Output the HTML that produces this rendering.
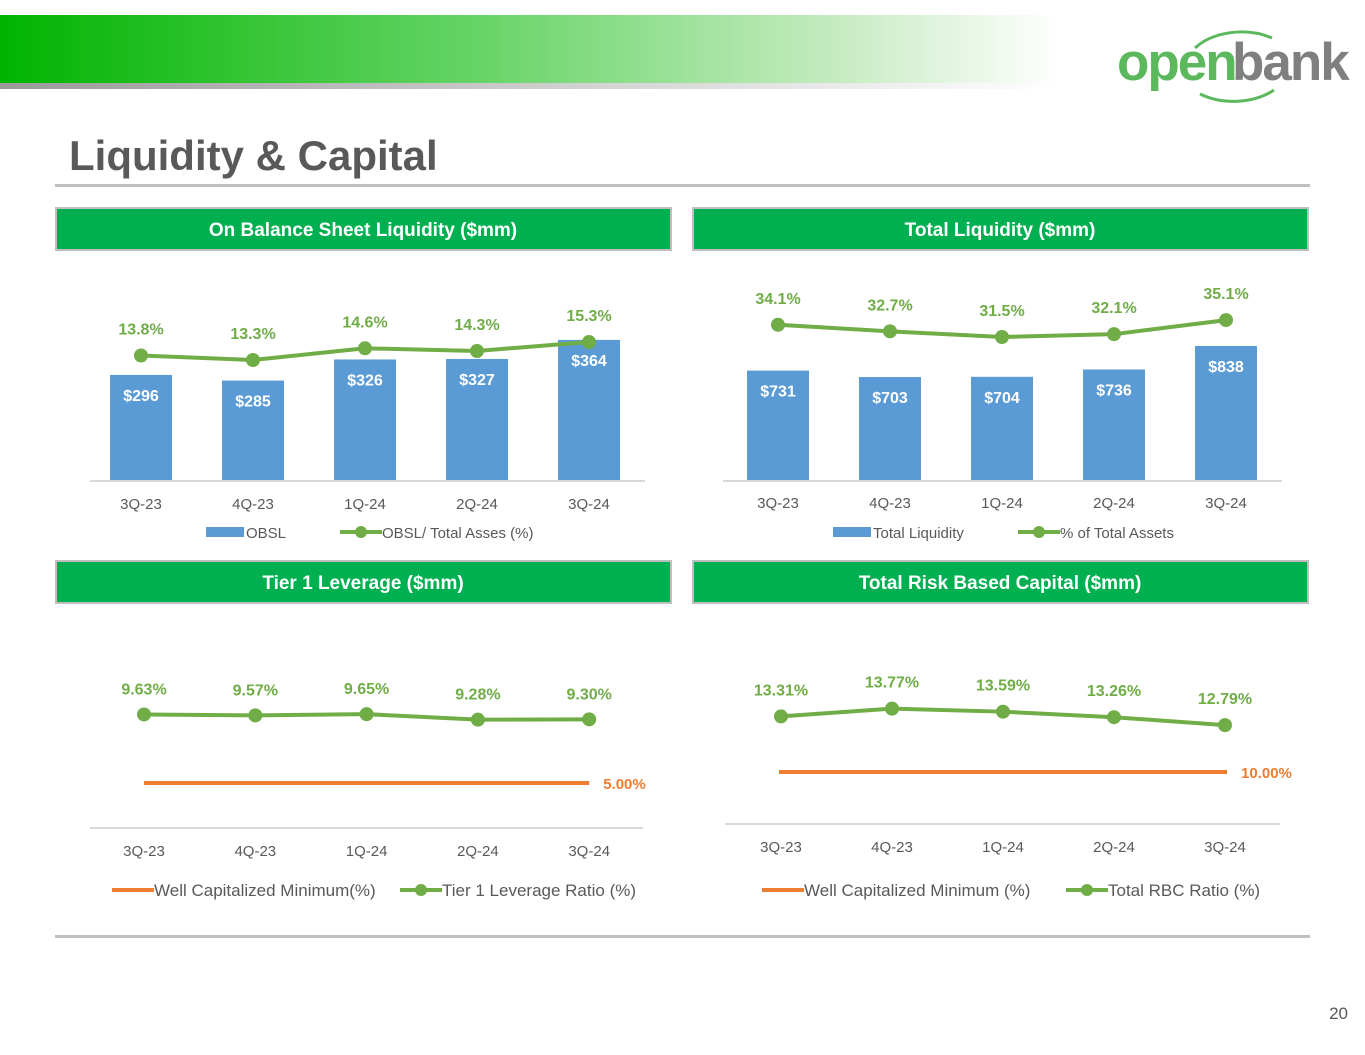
<!DOCTYPE html>
<html><head><meta charset="utf-8">
<style>
html,body{margin:0;padding:0;background:#fff;}
body{width:1365px;height:1055px;overflow:hidden;position:relative;font-family:"Liberation Sans",sans-serif;}
svg{position:absolute;left:0;top:0;}
</style></head>
<body>
<svg id="s" width="1365" height="1055" viewBox="0 0 1365 1055">
<defs>
<linearGradient id="gbar" x1="0" x2="1" y1="0" y2="0">
<stop offset="0" stop-color="#00b400"/><stop offset="0.45" stop-color="#66d466"/><stop offset="0.8" stop-color="#c9ecc4"/><stop offset="1" stop-color="#ffffff"/>
</linearGradient>
<linearGradient id="gline" x1="0" x2="1"><stop offset="0" stop-color="#9a9a9a"/><stop offset="1" stop-color="#ffffff"/></linearGradient>
</defs>
<rect x="0" y="15" width="1060" height="68" fill="url(#gbar)"/>
<rect x="0" y="83" width="1060" height="6" fill="url(#gline)"/>
<g>
<path d="M1195 48 A58 40 0 0 1 1272 38" fill="none" stroke="#5cb85c" stroke-width="3"/>
<path d="M1200 94 A58 40 0 0 0 1274 90" fill="none" stroke="#5cb85c" stroke-width="3"/>
<text x="1117" y="80" font-size="53" font-weight="bold" fill="#5cb85c" letter-spacing="-2">open</text>
<text x="1232" y="80" font-size="53" font-weight="bold" fill="#7f7f7f" letter-spacing="-2">bank</text>
</g>
<text x="69" y="170" font-size="42" font-weight="bold" fill="#595959">Liquidity &amp; Capital</text>
<rect x="55" y="184" width="1255" height="3" fill="#bfbfbf"/>
<rect x="55" y="935" width="1255" height="3" fill="#bfbfbf"/>
<text x="1348" y="1019" font-size="17" fill="#595959" text-anchor="end">20</text>
<g id="charts"></g>
</svg>
<script>
const cats = ["3Q-23","4Q-23","1Q-24","2Q-24","3Q-24"];
const obsl = [296,285,326,327,364];
const obslPct = [13.8,13.3,14.6,14.3,15.3];
const totLiq = [731,703,704,736,838];
const totLiqPct = [34.1,32.7,31.5,32.1,35.1];
const tier1 = [9.63,9.57,9.65,9.28,9.30];
const tier1Min = 5.00;
const rbc = [13.31,13.77,13.59,13.26,12.79];
const rbcMin = 10.00;

const NS="http://www.w3.org/2000/svg";
const root=document.getElementById('charts');
function mk(tag,attrs,parent,txt){const e=document.createElementNS(NS,tag);for(const k in attrs)e.setAttribute(k,attrs[k]);if(txt!==undefined)e.textContent=txt;(parent||root).appendChild(e);return e;}
const GREEN="#70ad47",BLUE="#5b9bd5",ORANGE="#ed7d31",GREY="#595959";
const FONT='"Liberation Sans",sans-serif';

function header2(x,y,title){
  const g=mk('g',{});
  
  
  mk('rect',{x:x,y:y,width:615,height:42,fill:'#00b050',stroke:'#bfbfbf','stroke-width':2},g);
  mk('text',{x:x+307,y:y+28,'font-size':19,'font-weight':'bold',fill:'#fff','text-anchor':'middle'},g,title);
}
header2(56,208,"On Balance Sheet Liquidity ($mm)");
header2(693,208,"Total Liquidity ($mm)");
header2(56,561,"Tier 1 Leverage ($mm)");
header2(693,561,"Total Risk Based Capital ($mm)");

function xAxis(g,x0,x1,y,xs,labY){
  const a=mk('line',{x1:x0,x2:x1,y1:y,y2:y,stroke:'#d9d9d9','stroke-width':2},g);
  
  
  cats.forEach((c,i)=>{
    const t=mk('text',{x:xs(i),y:labY,'font-size':15,fill:GREY,'text-anchor':'middle'},g,c);
    
    
  });
}
function line(g,vals,xs,ys,fmt,labOff,name){
  const pts=vals.map((v,i)=>xs(i)+','+ys(v)).join(' ');
  const p=mk('polyline',{points:pts,fill:'none',stroke:GREEN,'stroke-width':4},g);
  
  
  vals.forEach((v,i)=>{
    const c=mk('circle',{cx:xs(i),cy:ys(v),r:7,fill:GREEN},g);
    
    
    const t=mk('text',{x:xs(i),y:ys(v)-labOff,'font-size':16,'font-weight':'bold',fill:GREEN,'text-anchor':'middle'},g,fmt(v));
    
    
  });
}
function bars(g,vals,xs,ys,base,name){
  vals.forEach((v,i)=>{
    const r=mk('rect',{x:xs(i)-31,y:ys(v),width:62,height:base-ys(v),fill:BLUE},g);
    
    
    const t=mk('text',{x:xs(i),y:ys(v)+26,'font-size':16,'font-weight':'bold',fill:'#fff','text-anchor':'middle'},g,'$'+v);
    
    
  });
}
function legendBar(g,x,y,label){
  const r=mk('rect',{x:x,y:y-5,width:38,height:10,fill:BLUE},g);
  
  
  const t=mk('text',{x:x+40,y:y+6,'font-size':15,fill:GREY},g,label);
  
  
}
function legendLine(g,x,y,label,color,marker,fs){
  const l=mk('line',{x1:x,x2:x+42,y1:y,y2:y,stroke:color,'stroke-width':4},g);
  
  
  if(marker){const c=mk('circle',{cx:x+21,cy:y,r:6,fill:color},g);
    
    }
  const t=mk('text',{x:x+42,y:y+6,'font-size':fs||15,fill:GREY},g,label);
  
  
}

{
  const g=mk('g',{});
  
  
  const xs=i=>141+i*112, base=481;
  const ys=v=>base-(v-90)*0.515;
  const yl=v=>360-(v-13.3)*9;
  bars(g,obsl,xs,ys,base,'obsl');
  xAxis(g,90,645,base,xs,509);
  line(g,obslPct,xs,yl,v=>v.toFixed(1)+'%',21,'obsl-pct');
  legendBar(g,206,532,'OBSL');
  legendLine(g,340,532,'OBSL/ Total Asses (%)',GREEN,1,15);
}
{
  const g=mk('g',{});
  
  
  const xs=i=>778+i*112, base=481;
  const ys=v=>base-(v-251)*0.23;
  const yl=v=>337-(v-31.5)*4.7;
  bars(g,totLiq,xs,ys,base,'total-liquidity');
  xAxis(g,723,1282,base,xs,508);
  line(g,totLiqPct,xs,yl,v=>v.toFixed(1)+'%',21,'total-liquidity-pct');
  legendBar(g,833,532,'Total Liquidity');
  legendLine(g,1018,532,'% of Total Assets',GREEN,1,15);
}
{
  const g=mk('g',{});
  
  
  const xs=i=>144+i*111.3;
  const ys=v=>783-(v-5)*14.8;
  xAxis(g,90,643,828,xs,856);
  const m=mk('line',{x1:xs(0),x2:xs(4),y1:ys(tier1Min),y2:ys(tier1Min),stroke:ORANGE,'stroke-width':4},g);
  
  
  const mt=mk('text',{x:xs(4)+14,y:ys(tier1Min)+6,'font-size':15,'font-weight':'bold',fill:ORANGE},g,tier1Min.toFixed(2)+'%');
  
  
  line(g,tier1,xs,ys,v=>v.toFixed(2)+'%',20,'tier1');
  legendLine(g,112,890,'Well Capitalized Minimum(%)',ORANGE,0,17);
  legendLine(g,400,890,'Tier 1 Leverage Ratio (%)',GREEN,1,17);
}
{
  const g=mk('g',{});
  
  
  const xs=i=>781+i*111;
  const ys=v=>772-(v-10)*16.8;
  xAxis(g,725,1280,824,xs,852);
  const m=mk('line',{x1:xs(0)-2,x2:xs(4)+2,y1:ys(rbcMin),y2:ys(rbcMin),stroke:ORANGE,'stroke-width':4},g);
  
  
  const mt=mk('text',{x:xs(4)+16,y:ys(rbcMin)+6,'font-size':15,'font-weight':'bold',fill:ORANGE},g,rbcMin.toFixed(2)+'%');
  
  
  line(g,rbc,xs,ys,v=>v.toFixed(2)+'%',21,'rbc');
  legendLine(g,762,890,'Well Capitalized Minimum (%)',ORANGE,0,17);
  legendLine(g,1066,890,'Total RBC Ratio (%)',GREEN,1,17);
}
document.querySelectorAll('#charts text').forEach(t=>t.setAttribute('font-family',FONT));
</script>
</body></html>
